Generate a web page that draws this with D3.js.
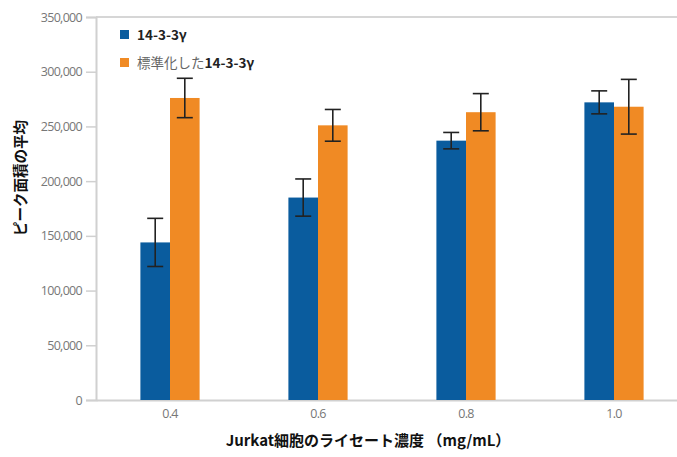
<!DOCTYPE html>
<html>
<head>
<meta charset="utf-8">
<script src="https://cdn.jsdelivr.net/npm/d3@7"></script>
<style>
  html, body { margin: 0; padding: 0; background: #fff; }
  svg { display: block; }
</style>
</head>
<body>
<svg id="chart" width="677" height="457"></svg>
<script>
// Lysate concentrations (mg/mL)
const categories = ["0.4", "0.6", "0.8", "1.0"];
const seriesNames = ["14-3-3γ", "標準化した14-3-3γ"];
// Mean peak area per series
const rawMeans = [144000, 185000, 237000, 272000];
const normMeans = [276000, 251000, 263000, 268000];
// Error bar half-widths
const rawErr = [22000, 17000, 7500, 10500];
const normErr = [18000, 14500, 17000, 25000];
const yTicks = [0, 50000, 100000, 150000, 200000, 250000, 300000, 350000];

const colors = ["#0a5c9e", "#f08a24"];
const W = 677, H = 457;
const margin = { left: 96, right: -11, top: 17, bottom: 57 };

const svg = d3.select("#chart");
const x0 = d3.scaleBand().domain(categories)
  .range([margin.left, W - margin.right]).paddingInner(0).paddingOuter(0);
const x1 = d3.scaleBand().domain([0, 1])
  .range([x0.bandwidth() * 0.3, x0.bandwidth() * 0.7]);
const y = d3.scaleLinear().domain([0, 350000]).range([H - margin.bottom, margin.top]);

const fontTick = "'Open Sans', 'Noto Sans', sans-serif";
const fontCJK = "'Noto Sans CJK JP', 'Noto Sans', sans-serif";

// frame: top border
svg.append("line").attr("x1", margin.left).attr("x2", W).attr("y1", y(350000)).attr("y2", y(350000))
  .attr("stroke", "#d6d6d6").attr("stroke-width", 2);

// y axis
const yAxis = d3.axisLeft(y).tickValues(yTicks).tickSize(10).tickPadding(4)
  .tickFormat(d3.format(","));
const gy = svg.append("g").attr("transform", `translate(${margin.left},0)`).call(yAxis);
gy.select(".domain").attr("stroke", "#d0d0d0").attr("stroke-width", 2);
gy.selectAll(".tick line").attr("stroke", "#d0d0d0").attr("stroke-width", 1.5);
gy.selectAll(".tick text").attr("fill", "#777").attr("font-family", fontTick)
  .attr("font-size", 12.5).attr("letter-spacing", -0.7);

// x axis
const xAxis = d3.axisBottom(x0).tickSize(0).tickPadding(9);
const gx = svg.append("g").attr("transform", `translate(0,${y(0)})`).call(xAxis);
gx.select(".domain").attr("stroke", "#d0d0d0").attr("stroke-width", 2);
gx.selectAll(".tick text").attr("fill", "#777").attr("font-family", fontTick)
  .attr("font-size", 12.5).attr("letter-spacing", -0.7);

// bars
const rows = categories.map((c, i) => ({
  cat: c,
  vals: [
    { s: 0, v: rawMeans[i], e: rawErr[i] },
    { s: 1, v: normMeans[i], e: normErr[i] }
  ]
}));

const groups = svg.append("g").selectAll("g").data(rows).join("g")
  .attr("transform", d => `translate(${x0(d.cat)},0)`);

groups.selectAll("rect").data(d => d.vals).join("rect")
  .attr("x", d => x1(d.s))
  .attr("width", x1.bandwidth())
  .attr("y", d => y(d.v))
  .attr("height", d => y(0) - y(d.v))
  .attr("fill", d => colors[d.s]);

// error bars
const cap = 8;
const eb = groups.selectAll("g.err").data(d => d.vals).join("g").attr("class", "err")
  .attr("stroke", "#222").attr("stroke-width", 1.6);
eb.append("line")
  .attr("x1", d => x1(d.s) + x1.bandwidth() / 2).attr("x2", d => x1(d.s) + x1.bandwidth() / 2)
  .attr("y1", d => y(d.v + d.e)).attr("y2", d => y(d.v - d.e));
eb.append("line")
  .attr("x1", d => x1(d.s) + x1.bandwidth() / 2 - cap).attr("x2", d => x1(d.s) + x1.bandwidth() / 2 + cap)
  .attr("y1", d => y(d.v + d.e)).attr("y2", d => y(d.v + d.e));
eb.append("line")
  .attr("x1", d => x1(d.s) + x1.bandwidth() / 2 - cap).attr("x2", d => x1(d.s) + x1.bandwidth() / 2 + cap)
  .attr("y1", d => y(d.v - d.e)).attr("y2", d => y(d.v - d.e));

// legend
const legend = svg.append("g").attr("transform", "translate(120,30)");
seriesNames.forEach((name, i) => {
  const g = legend.append("g").attr("transform", `translate(0,${i * 28})`);
  g.append("rect").attr("width", 9).attr("height", 9).attr("fill", colors[i]);
  const t = g.append("text").attr("x", 17).attr("y", 10).attr("font-size", 13.5)
    .attr("font-family", fontCJK);
  if (i === 0) {
    t.append("tspan").attr("font-weight", "bold").attr("fill", "#222").text(name);
  } else {
    t.append("tspan").attr("fill", "#666").text("標準化した");
    t.append("tspan").attr("font-weight", "bold").attr("fill", "#222").text("14-3-3γ");
  }
});

// axis titles
svg.append("text")
  .attr("transform", `translate(26,178) rotate(-90)`)
  .attr("text-anchor", "middle")
  .attr("font-family", fontCJK).attr("font-weight", "bold").attr("font-size", 14.5)
  .attr("fill", "#111")
  .text("ピーク面積の平均");

svg.append("text")
  .attr("x", 368).attr("y", 446)
  .attr("text-anchor", "middle")
  .attr("font-family", fontCJK).attr("font-weight", "bold").attr("font-size", 15)
  .attr("fill", "#111")
  .text("Jurkat細胞のライセート濃度 （mg/mL）");
</script>
</body>
</html>
